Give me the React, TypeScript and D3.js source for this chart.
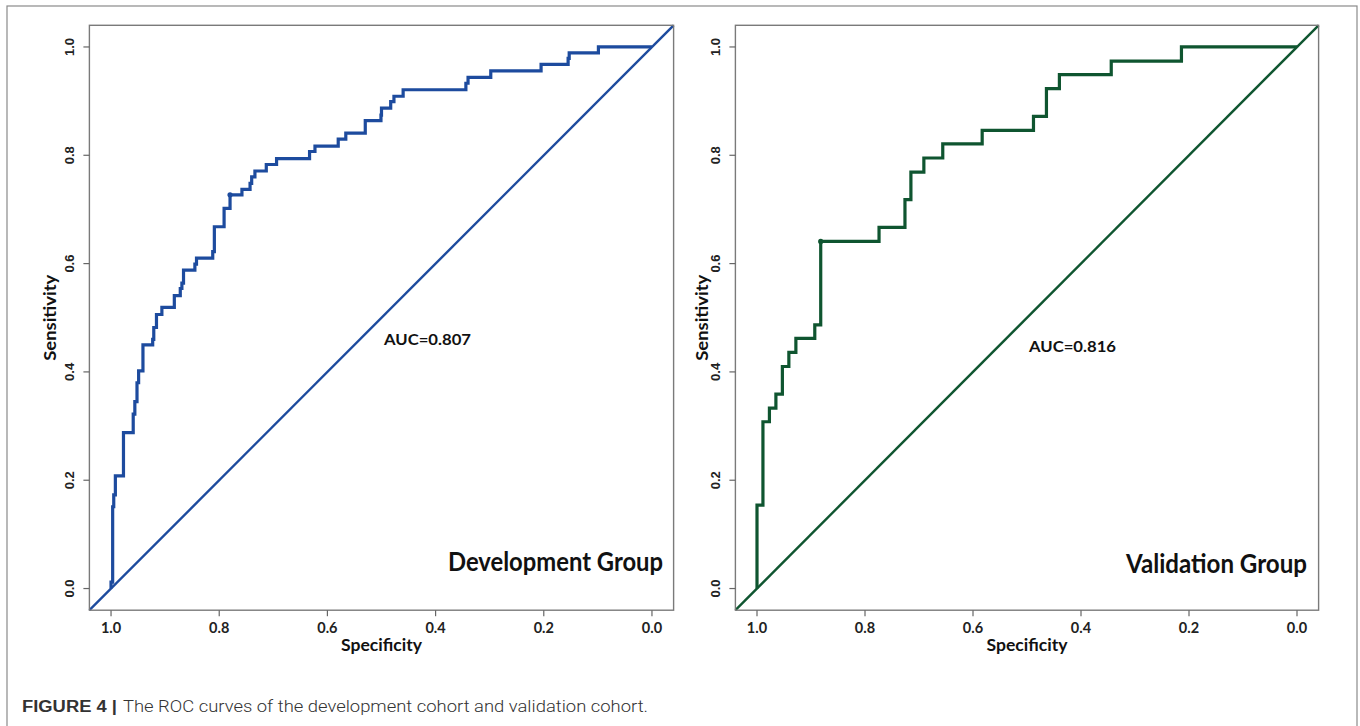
import React from "react";
import * as d3 from "d3";

// Development group ROC: (specificity, sensitivity) at each step
const devSpec = [1.0, 1.0, 0.997, 0.995, 0.992, 0.977, 0.959, 0.956, 0.952, 0.949, 0.941, 0.923, 0.921, 0.916, 0.906, 0.883, 0.872, 0.869, 0.866, 0.845, 0.842, 0.812, 0.809, 0.791, 0.780, 0.758, 0.743, 0.740, 0.734, 0.713, 0.694, 0.633, 0.623, 0.580, 0.566, 0.530, 0.501, 0.500, 0.483, 0.477, 0.460, 0.344, 0.340, 0.298, 0.205, 0.155, 0.153, 0.099, 0.0];
const devSens = [0.0, 0.012, 0.151, 0.173, 0.208, 0.288, 0.322, 0.345, 0.380, 0.402, 0.450, 0.460, 0.482, 0.506, 0.519, 0.541, 0.554, 0.564, 0.588, 0.599, 0.610, 0.622, 0.668, 0.702, 0.727, 0.737, 0.748, 0.760, 0.771, 0.783, 0.794, 0.807, 0.817, 0.830, 0.841, 0.864, 0.874, 0.887, 0.899, 0.909, 0.921, 0.933, 0.944, 0.956, 0.968, 0.979, 0.989, 1.0, 1.0];
const devBest = [0.780, 0.727];

// Validation group ROC
const valSpec = [1.0, 1.0, 0.989, 0.977, 0.965, 0.953, 0.941, 0.928, 0.893, 0.882, 0.774, 0.726, 0.715, 0.691, 0.656, 0.583, 0.488, 0.464, 0.440, 0.344, 0.214, 0.0];
const valSens = [0.0, 0.154, 0.308, 0.333, 0.359, 0.410, 0.436, 0.462, 0.487, 0.641, 0.667, 0.718, 0.769, 0.795, 0.821, 0.846, 0.872, 0.923, 0.949, 0.974, 1.0, 1.0];
const valBest = [0.882, 0.641];

const xTicks = [1.0, 0.8, 0.6, 0.4, 0.2, 0.0];
const yTicks = [0.0, 0.2, 0.4, 0.6, 0.8, 1.0];

const AXIS_FONT = "Lato, 'Open Sans', sans-serif";

interface PanelProps {
  left: number;
  right: number;
  spec: number[];
  sens: number[];
  best: number[];
  color: string;
  auc: string;
  aucX: number;
  aucY: number;
  group: string;
  groupX: number;
  groupW: number;
  groupY: number;
  ylabX: number;
}

function Panel(p: PanelProps) {
  const top = 25.3;
  const bottom = 610.2;
  const x = d3.scaleLinear().domain([1.04, -0.04]).range([p.left, p.right]);
  const y = d3.scaleLinear().domain([-0.04, 1.04]).range([bottom, top]);
  const pts: [number, number][] = p.spec.map((s, i) => [s, p.sens[i]]);
  const line = d3
    .line<[number, number]>()
    .x((d) => x(d[0]))
    .y((d) => y(d[1]))
    .curve(d3.curveStepAfter);
  const diag = d3
    .line<[number, number]>()
    .x((d) => x(d[0]))
    .y((d) => y(d[1]));
  const midX = (p.left + p.right) / 2;
  const midY = (top + bottom) / 2;
  return (
    <g>
      <path d={diag([[1.04, -0.04], [-0.04, 1.04]]) || ""} stroke={p.color} strokeWidth={2.4} fill="none" />
      <path d={line(pts) || ""} stroke={p.color} strokeWidth={3.2} fill="none" strokeLinejoin="miter" />
      <circle cx={x(p.best[0])} cy={y(p.best[1])} r={2.6} fill={p.color} />
      <rect x={p.left} y={top} width={p.right - p.left} height={bottom - top} fill="none" stroke="#7a7a7a" strokeWidth={1.4} />
      {xTicks.map((t) => (
        <g key={"x" + t}>
          <line x1={x(t)} x2={x(t)} y1={bottom} y2={bottom + 6} stroke="#666" strokeWidth={1.2} />
          <text x={x(t)} y={633} textAnchor="middle" fontFamily={AXIS_FONT} fontWeight={700} fontSize={14.5} fill="#222">
            {t.toFixed(1)}
          </text>
        </g>
      ))}
      {yTicks.map((t) => (
        <g key={"y" + t}>
          <line x1={p.left - 6} x2={p.left} y1={y(t)} y2={y(t)} stroke="#666" strokeWidth={1.2} />
          <text
            transform={`translate(${p.left - 15},${y(t)}) rotate(-90)`}
            textAnchor="middle"
            fontFamily="'Liberation Sans', Arial, sans-serif"
            fontWeight={700}
            fontSize={13}
            fill="#222"
          >
            {t.toFixed(1)}
          </text>
        </g>
      ))}
      <text x={midX} y={651} textAnchor="middle" fontFamily={AXIS_FONT} fontWeight={700} fontSize={17} fill="#111" textLength={81} lengthAdjust="spacingAndGlyphs">
        Specificity
      </text>
      <text
        transform={`translate(${p.ylabX},${midY}) rotate(-90)`}
        textAnchor="middle"
        fontFamily={AXIS_FONT}
        fontWeight={700}
        fontSize={17}
        fill="#111"
        textLength={86}
        lengthAdjust="spacingAndGlyphs"
      >
        Sensitivity
      </text>
      <text x={p.aucX} y={p.aucY} fontFamily={AXIS_FONT} fontWeight={700} fontSize={16} fill="#111" textLength={87} lengthAdjust="spacingAndGlyphs">
        {p.auc}
      </text>
      <text x={p.groupX} y={p.groupY} fontFamily={AXIS_FONT} fontWeight={700} fontSize={27} fill="#111" textLength={p.groupW} lengthAdjust="spacingAndGlyphs">
        {p.group}
      </text>
    </g>
  );
}

export default function App() {
  return (
    <svg width={1360} height={726} style={{ position: "absolute", left: 0, top: 0, background: "#fff" }}>
      <rect x={0} y={0} width={1360} height={726} fill="#fff" />
      <rect x={7} y={6} width={1350} height={740} fill="none" stroke="#8a8a8a" strokeWidth={1.2} />
      <Panel
        left={89.4}
        right={673.6}
        spec={devSpec}
        sens={devSens}
        best={devBest}
        color="#1d4b9e"
        auc="AUC=0.807"
        aucX={384}
        aucY={345}
        group="Development Group"
        groupX={448}
        groupW={215}
        groupY={571}
        ylabX={56}
      />
      <Panel
        left={735.4}
        right={1318.6}
        spec={valSpec}
        sens={valSens}
        best={valBest}
        color="#0f5530"
        auc="AUC=0.816"
        aucX={1029}
        aucY={352}
        group="Validation Group"
        groupX={1126}
        groupW={181}
        groupY={573}
        ylabX={708}
      />
      <text x={22} y={712} fontFamily="'Liberation Sans', Arial, sans-serif" fontWeight={700} fontSize={16} fill="#333" textLength={95} lengthAdjust="spacingAndGlyphs">
        FIGURE 4 |
      </text>
      <text x={123} y={712} fontFamily="Roboto, 'Liberation Sans', sans-serif" fontWeight={300} fontSize={17} fill="#333" textLength={525} lengthAdjust="spacingAndGlyphs">
        The ROC curves of the development cohort and validation cohort.
      </text>
    </svg>
  );
}
